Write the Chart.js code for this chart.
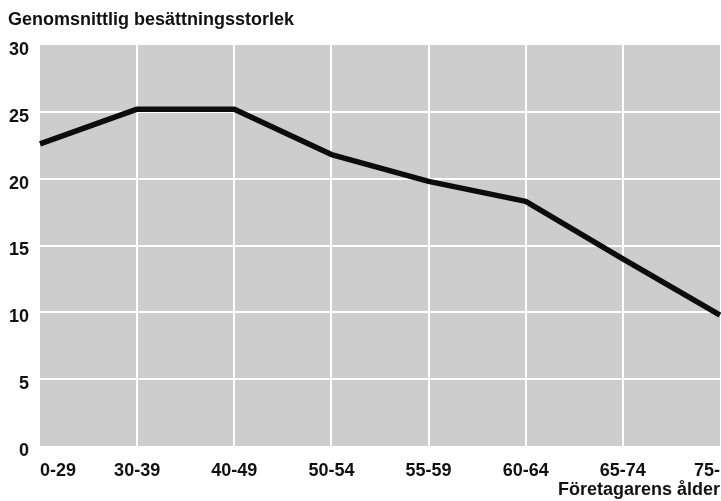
<!DOCTYPE html>
<html lang="sv">
<head>
<meta charset="utf-8">
<title>Genomsnittlig besättningsstorlek</title>
<script src="https://cdn.jsdelivr.net/npm/chart.js@4.4.1/dist/chart.umd.min.js"></script>
<style>
  html, body { margin: 0; padding: 0; background: #fff; }
  canvas { display: block; }
</style>
</head>
<body>
<canvas id="herdChart" width="721" height="501"></canvas>
<script>
  // age groups of the farmer and average herd size per group
  const ageGroups = ["0-29", "30-39", "40-49", "50-54", "55-59", "60-64", "65-74", "75-"];
  const herdSize = [22.6, 25.2, 25.2, 21.8, 19.8, 18.3, 14.0, 9.8];
  const yTicks = [0, 5, 10, 15, 20, 25, 30];

  const plotGray = {
    id: "plotGray",
    beforeDraw(chart) {
      const { ctx, chartArea } = chart;
      ctx.save();
      ctx.fillStyle = "#cdcdcd";
      ctx.fillRect(chartArea.left, chartArea.top, chartArea.width, chartArea.height);
      ctx.restore();
    }
  };

  const labelFont = { family: "'Liberation Sans', Arial, sans-serif", size: 18, weight: "bold" };

  new Chart(document.getElementById("herdChart"), {
    type: "line",
    data: {
      labels: ageGroups,
      datasets: [{
        label: "Genomsnittlig besättningsstorlek",
        data: herdSize,
        borderColor: "#0c0c0c",
        borderWidth: 5.5,
        borderJoinStyle: "round",
        pointRadius: 0,
        tension: 0,
        fill: false
      }]
    },
    options: {
      responsive: false,
      animation: false,
      layout: { padding: { left: 8, right: 1, top: 0, bottom: 0 } },
      plugins: {
        legend: { display: false },
        tooltip: { enabled: false },
        title: {
          display: true,
          text: "Genomsnittlig besättningsstorlek",
          align: "start",
          color: "#111",
          font: labelFont,
          padding: { top: 9, bottom: 14.4 }
        }
      },
      scales: {
        x: {
          type: "category",
          offset: false,
          border: { display: false },
          grid: {
            drawTicks: false,
            lineWidth: 2,
            color: (c) => (c.index === 0 || c.index === ageGroups.length - 1) ? "rgba(0,0,0,0)" : "#ffffff"
          },
          ticks: {
            color: "#111",
            font: labelFont,
            padding: 14,
            maxRotation: 0,
            autoSkip: false,
            align: "inner"
          },
          title: {
            display: true,
            text: "Företagarens ålder",
            align: "end",
            color: "#111",
            font: labelFont,
            padding: { top: 0, bottom: 0 }
          },
          afterFit(scale) {
            scale.height = 55;
            scale.paddingLeft = 0;
            scale.paddingRight = 0;
          }
        },
        y: {
          min: yTicks[0],
          max: yTicks[yTicks.length - 1],
          border: { display: false },
          grid: {
            drawTicks: false,
            lineWidth: 2,
            color: (c) => (c.tick && (c.tick.value === 0 || c.tick.value === 30)) ? "rgba(0,0,0,0)" : "#ffffff"
          },
          afterBuildTicks(scale) {
            scale.ticks = yTicks.map(v => ({ value: v }));
          },
          ticks: {
            color: "#111",
            font: labelFont,
            padding: 11,
            labelOffset: 5
          },
          afterFit(scale) { scale.width = 32; }
        }
      }
    },
    plugins: [plotGray]
  });
</script>
</body>
</html>
